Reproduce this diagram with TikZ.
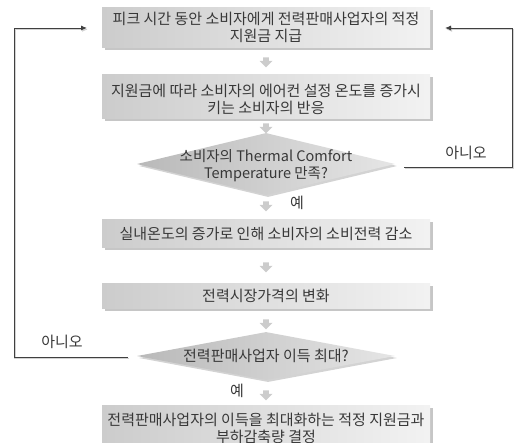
\documentclass[tikz,border=0pt]{standalone}
\usepackage{fontspec}
\setmainfont{Noto Sans CJK KR}
\usetikzlibrary{shapes.geometric,shapes.arrows,shadows,arrows.meta}
\begin{document}
\begin{tikzpicture}[x=1pt,y=-1pt,
  font=\fontsize{15}{17}\selectfont,
  txt/.style={text=black!78},
  procbox/.style={rectangle, inner sep=0pt, minimum width=328pt, left color=gray!40, right color=gray!10,
    drop shadow={shadow xshift=2.5pt, shadow yshift=-2.5pt, opacity=0.45, fill=gray}},
  decision/.style={diamond, inner sep=0pt, minimum width=258pt, left color=gray!55, right color=gray!20,
    drop shadow={shadow xshift=2pt, shadow yshift=-2pt, opacity=0.35, fill=gray}},
  blkarrow/.style={single arrow, shape border rotate=270, draw=none, fill=gray!40, inner sep=2.5pt,
    minimum height=10pt, minimum width=13pt, single arrow head extend=3.5pt},
  loopline/.style={draw=black!75, line width=0.9pt, -{Latex[length=6pt,width=5pt]},
    preaction={draw=gray!35, line width=1.6pt, transform canvas={xshift=1pt,yshift=-1.5pt}}},
  lbl/.style={text=black!78}
]
\useasboundingbox (0,0) rectangle (518,443);

% boxes
\node[procbox, minimum height=40pt] (b1) at (266,28) {};
\node[txt, align=center] (t1) at (266,27.5) {피크 시간 동안 소비자에게 전력판매사업자의 적정\\지원금 지급};

\node[blkarrow] (a1) at (266,61) {};

\node[procbox, minimum height=44pt] (b2) at (266,97) {};
\node[txt, align=center] (t2) at (266,99) {지원금에 따라 소비자의 에어컨 설정 온도를 증가시\\키는 소비자의 반응};

\node[blkarrow] (a2) at (266,127) {};

\node[decision, minimum height=62pt] (d1) at (266,164) {};
\node[txt, align=center, font=\fontsize{14.5}{17}\selectfont] (t3) at (266,166) {소비자의 Thermal Comfort\\Temperature 만족?};

\node[blkarrow] (a3) at (266,205) {};
\node[lbl] (yes1) at (297,203) {예};

\node[procbox, minimum height=27pt] (b3) at (266,233.5) {};
\node[txt] (t4) at (b3) {실내온도의 증가로 인해 소비자의 소비전력 감소};

\node[blkarrow] (a4) at (266,266) {};

\node[procbox, minimum height=25pt] (b4) at (266,295.5) {};
\node[txt] (t5) at (b4) {전력시장가격의 변화};

\node[blkarrow] (a5) at (266,323) {};

\node[decision, minimum height=48pt] (d2) at (266,356) {};
\node[txt] (t6) at (d2) {전력판매사업자 이득 최대?};

\node[blkarrow] (a6) at (266,394) {};
\node[lbl] (yes2) at (237,391) {예};

\node[procbox, minimum height=54pt] (b5) at (266,432) {};
\node[txt, align=center] (t7) at (266,428) {전력판매사업자의 이득을 최대화하는 적정 지원금과\\부하감축량 결정};

% loops
\coordinate (r0) at (404,167);
\coordinate (r1) at (445,28);
\draw[loopline] (r0) -- (512,167) |- (r1);
\node[lbl] (no1) at (466,153) {아니오};

\coordinate (l0) at (128,357);
\coordinate (l1) at (87,28);
\draw[loopline] (l0) -- (14,357) |- (l1);
\node[lbl] (no2) at (62,342) {아니오};
\end{tikzpicture}
\end{document}
